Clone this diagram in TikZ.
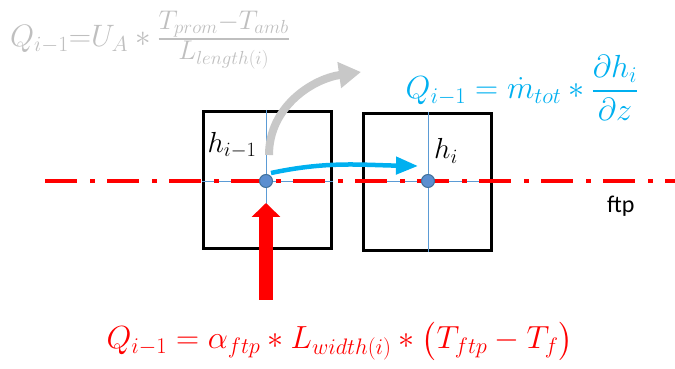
\RequirePackage{fix-cm}
\documentclass[tikz,border=0pt]{standalone}
\usepackage{amsmath,amssymb}
\usepackage[no-math]{fontspec}
\newfontfamily\labelfont{Carlito}
\usepackage{xcolor}
\usetikzlibrary{arrows.meta,positioning,calc}
\definecolor{ftpred}{HTML}{FF0000}
\definecolor{flowblue}{HTML}{00B0F0}
\definecolor{lossgray}{HTML}{C8C8C8}
\definecolor{eqgray}{HTML}{BFBFBF}
\definecolor{dotfill}{HTML}{5B8FD0}
\definecolor{dotedge}{HTML}{41719C}
\definecolor{axisblue}{HTML}{5B9BD5}
\newcommand{\fracpart}[1]{\mbox{\fontsize{27}{30}\selectfont$#1$}}

\begin{document}
\begin{tikzpicture}[x=1pt,y=1pt,
  cell/.style={draw=black,line width=3pt,minimum width=128pt,minimum height=137pt,inner sep=0pt},
  node dot/.style={circle,draw=dotedge,line width=1pt,fill=dotfill,minimum size=13pt,inner sep=0pt},
  axis/.style={axisblue,line width=0.8pt},
  eq/.style={inner sep=0pt,font=\fontsize{32}{38}\selectfont},
  hlab/.style={inner sep=0pt,font=\fontsize{29}{34}\selectfont}]
\useasboundingbox (0,0) rectangle (675,369);
\node[cell] (boxL) at (267,189) {};
\node[cell] (boxR) at (427,187) {};
\draw[axis] (boxL.north -| 266,0) -- (boxL.south -| 266,0);
\draw[axis] (boxL.west |- 0,188) -- (boxL.east |- 0,188);
\draw[axis] (boxR.north -| 428,0) -- (boxR.south -| 428,0);
\draw[axis] (boxR.west |- 0,188) -- (boxR.east |- 0,188);
\coordinate (lineA) at (45,188);
\coordinate (lineB) at (675,188);
\draw[ftpred,line width=4pt,dash pattern=on 32pt off 13pt on 5pt off 12pt] (lineA) -- (lineB);
\node[node dot] (dotL) at (266,188) {};
\node[node dot] (dotR) at (428,188) {};
\node[hlab] (hL) at (232,224) {$h_{i-1}$};
\node[hlab] (hR) at (446,218) {$h_i$};
\node[inner sep=0pt,font=\labelfont\fontsize{24}{27}\selectfont,anchor=base west] (ftp) at (607,156) {ftp};
\coordinate (heatIn) at (266,69);
\draw[ftpred,line width=14pt,-{Triangle[length=14pt,width=28pt]}] (heatIn) -- (dotL.south |- 0,166);
\coordinate (lossStart) at (269,214);
\coordinate (lossEnd) at (361,297);
\draw[lossgray,line width=8pt,-{Triangle[length=22pt,width=25pt]}] (lossStart) to[out=90,in=188] (lossEnd);
\coordinate (flowStart) at (271,196);
\coordinate (flowEnd) at (418,203);
\draw[flowblue,line width=4.5pt,-{Triangle[length=22pt,width=17pt]}] (flowStart) to[out=12,in=179] (flowEnd);
\node[eq,text=eqgray,anchor=west,font=\fontsize{31}{36}\selectfont] (eqGray) at (10,329)
  {$Q_{i-1}{=}U_A \ast \frac{\fracpart{T_{prom}{-}T_{amb}}}{\fracpart{L_{length(i)}}}$};
\node[eq,text=flowblue] (eqBlue) at (522,281)
  {$Q_{i-1} = \dot{m}_{tot} \ast \dfrac{\partial h_i}{\partial z}$};
\node[eq,text=ftpred] (eqRed) at (340,28)
  {$Q_{i-1} = \alpha_{ftp} \ast L_{width(i)} \ast \bigl(T_{ftp} - T_f\bigr)$};
\end{tikzpicture}
\end{document}
